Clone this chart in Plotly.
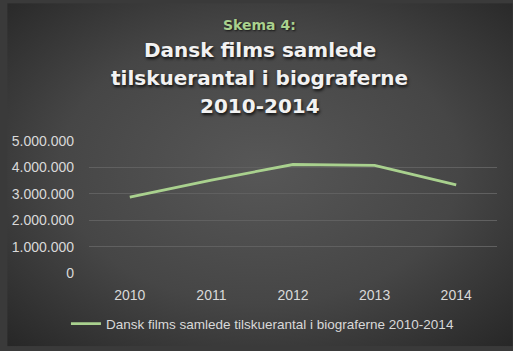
import base64
import plotly.graph_objects as go

years = ["2010", "2011", "2012", "2013", "2014"]
admissions = [2870000, 3520000, 4110000, 4080000, 3340000]
y_ticks = [0, 1000000, 2000000, 3000000, 4000000, 5000000]
y_tick_labels = ["0", "1.000.000", "2.000.000", "3.000.000", "4.000.000", "5.000.000"]
series_name = "Dansk films samlede tilskuerantal i biograferne 2010-2014"
kicker = "Skema 4:"
title_lines = ["Dansk films samlede", "tilskuerantal i biograferne", "2010-2014"]

W, H = 513, 351
L, R, T, B = 83, 16, 141, 75
pw, ph = W - L - R, H - T - B

def px_to_paper_y(ypix):
    return (H - B - ypix) / ph

svg = f'''<svg xmlns="http://www.w3.org/2000/svg" width="{W}" height="{H}" viewBox="0 0 {W} {H}" preserveAspectRatio="none">
<defs><radialGradient id="g" cx="50%" cy="48%" r="72%">
<stop offset="0%" stop-color="#575757"/><stop offset="55%" stop-color="#464646"/><stop offset="100%" stop-color="#272727"/>
</radialGradient></defs><rect width="{W}" height="{H}" fill="url(#g)"/></svg>'''
bg_src = "data:image/svg+xml;base64," + base64.b64encode(svg.encode()).decode()

sans = "Liberation Sans, Arial, sans-serif"
wide = "DejaVu Sans, Verdana, sans-serif"

fig = go.Figure()
fig.add_trace(go.Scatter(
    x=years, y=admissions, mode="lines", name=series_name,
    line=dict(color="#a9d18e", width=2.8),
))

annotations = [dict(
    text=kicker, xref="paper", yref="paper", x=(W / 2 - L) / pw, y=px_to_paper_y(22),
    xanchor="center", yanchor="middle", showarrow=False,
    font=dict(family=wide, size=14, color="#a9d18e", weight="bold", shadow="1px 1px 2px rgba(0,0,0,0.7)"),
)]
for yp, line in zip([48, 77, 105], title_lines):
    annotations.append(dict(
        text=line, xref="paper", yref="paper", x=(W / 2 - L) / pw, y=px_to_paper_y(yp),
        xanchor="center", yanchor="middle", showarrow=False,
        font=dict(family=wide, size=20, color="#f2f2f2", weight="bold", shadow="1px 2px 3px rgba(0,0,0,0.8)"),
    ))

fig.update_layout(
    width=W, height=H,
    margin=dict(l=L, r=R, t=T, b=B),
    paper_bgcolor="#3a3a3a", plot_bgcolor="rgba(0,0,0,0)",
    images=[dict(source=bg_src, xref="paper", yref="paper",
                 x=-L / pw, y=(H - B) / ph, sizex=W / pw, sizey=H / ph,
                 xanchor="left", yanchor="top", sizing="stretch", layer="below")],
    showlegend=True,
    legend=dict(orientation="h", x=(259 - L) / pw, xanchor="center", y=px_to_paper_y(328), yanchor="middle",
                font=dict(family=sans, size=13.5, color="#d9d9d9"), bgcolor="rgba(0,0,0,0)"),
    annotations=annotations,
    xaxis=dict(type="category", range=[-0.5, 4.5], showgrid=False, showline=False, zeroline=False, ticks="",
               tickfont=dict(family=sans, size=14, color="#d9d9d9"), ticklabelstandoff=12),
    yaxis=dict(range=[0, 5000000], tickvals=y_ticks, ticktext=y_tick_labels,
               showgrid=True, gridcolor="#606060", gridwidth=1, zeroline=False, showline=False,
               ticks="", tickfont=dict(family=sans, size=14, color="#d9d9d9"), ticklabelstandoff=14),
)

fig.write_html("out.html")
